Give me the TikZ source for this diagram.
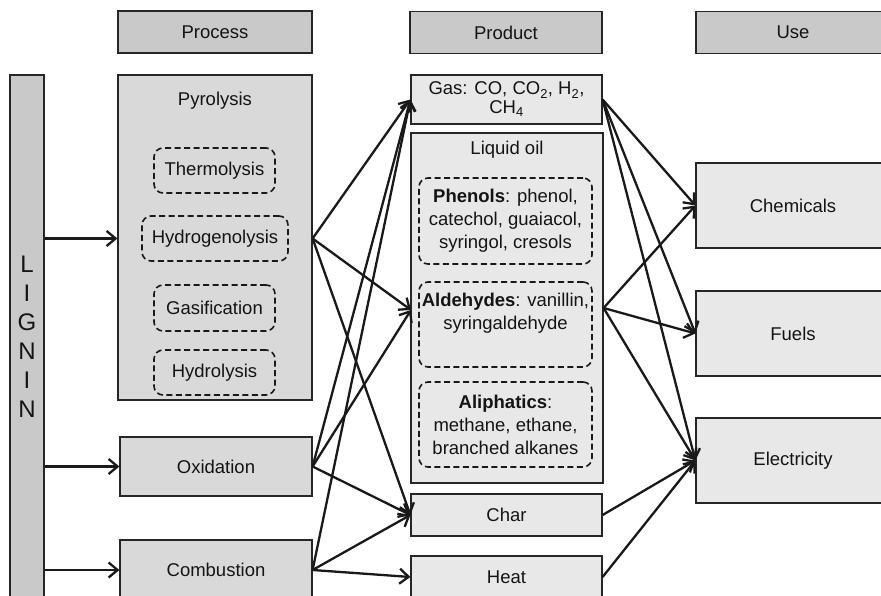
\documentclass[tikz,border=0pt]{standalone}
\usepackage{fontspec}
\setmainfont{Liberation Sans}
\usetikzlibrary{arrows.meta}

\definecolor{hdrgray}{gray}{0.79}
\definecolor{procgray}{gray}{0.85}
\definecolor{prodgray}{gray}{0.91}

\tikzset{
  every node/.style={font=\fontsize{18.5}{23}\selectfont, text=black!92, inner sep=0pt},
  box/.style={draw=black!85, line width=1.2pt},
  hdr/.style={box, fill=hdrgray, minimum width=194pt, minimum height=42pt},
  proc/.style={box, fill=procgray, minimum width=192pt},
  prod/.style={box, fill=prodgray, minimum width=191pt},
  usebox/.style={box, fill=prodgray, minimum width=194pt, minimum height=85pt},
  dbox/.style={draw=black!90, line width=1.6pt, dash pattern=on 6pt off 3.5pt, rounded corners=9pt, align=center},
  arr/.style={-{Straight Barb[length=9pt,width=15pt]}, line width=2.3pt, black!90}
}

\begin{document}
\begin{tikzpicture}[x=1pt,y=-1pt]
\clip (0,0) rectangle (881,596);

% column heads
\node[hdr] (hproc) at (215,32) {Process};
\node[hdr, minimum width=192pt] (hprod) at (506,32.5) {Product};
\node[hdr] (huse) at (793,32.5) {Use};

% lignin bar
\node[box, fill=hdrgray, minimum width=34pt, minimum height=545pt] (lignin) at (27,347.5) {};
\node[align=center, font=\fontsize{24}{29}\selectfont] (lname) at (27,337) {L\\I\\G\\N\\I\\N};

% processes
\node[proc, minimum width=194pt, minimum height=325pt] (pyro) at (215,237.5) {};
\node (pyrotxt) at (215,101) {Pyrolysis};
\node[dbox, minimum width=121pt, minimum height=45pt] (thermo) at (214.5,170.5) {Thermolysis};
\node[dbox, minimum width=146pt, minimum height=45pt] (hydro) at (215,238.5) {Hydrogenolysis};
\node[dbox, minimum width=121pt, minimum height=46pt] (gasif) at (214.5,308) {Gasification};
\node[dbox, minimum width=121pt, minimum height=45pt] (hydrol) at (214.5,372.5) {Hydrolysis};
\node[proc, minimum height=59pt] (ox) at (216,466.5) {Oxidation};
\node[proc, minimum height=60pt] (comb) at (216,570) {\raisebox{-1pt}{Combustion}};

% products
\node[prod, minimum height=49pt, align=center, font=\fontsize{18.5}{19}\selectfont] (gas) at (506.5,99.5) {Gas: CO, CO\textsubscript{2}, H\textsubscript{2},\\CH\textsubscript{4}};
\node[prod, minimum width=192pt, minimum height=350pt] (oil) at (507,308) {};
\node (oiltxt) at (507,150) {Liquid oil};
\node[dbox, minimum width=173pt, minimum height=86pt] (phen) at (505.5,221) {\textbf{Phenols}: phenol,\\catechol, guaiacol,\\syringol, cresols};
\node[dbox, minimum width=173pt, minimum height=85pt] (ald) at (505.5,324.5) {\textbf{Aldehydes}: vanillin,\\syringaldehyde\\[4pt]};
\node[dbox, minimum width=173pt, minimum height=85pt] (aliph) at (505.5,424.5) {\textbf{Aliphatics}:\\methane, ethane,\\branched alkanes};
\node[prod, minimum height=42pt] (char) at (506.5,515) {Char};
\node[prod, minimum height=42pt] (heat) at (506.5,577) {Heat};
\coordinate (oilin) at (411,310);

% uses
\node[usebox] (chem) at (793,205.5) {Chemicals};
\node[usebox] (fuel) at (793,333.5) {Fuels};
\node[usebox] (elec) at (793,460.5) {Electricity};

% lignin to processes
\draw[arr] (lignin.east |- hydro) -- (pyro.west |- hydro);
\draw[arr] (lignin.east |- ox) -- (ox.west);
\draw[arr] (lignin.east |- comb) -- (comb.west);

% processes to products
\draw[arr] (pyro.east |- hydro) -- (gas.west);
\draw[arr] (pyro.east |- hydro) -- (oilin);
\draw[arr] (pyro.east |- hydro) -- (char.west);
\draw[arr] (ox.east) -- (gas.west);
\draw[arr] (ox.east) -- (oilin);
\draw[arr] (ox.east) -- (char.west);
\draw[arr] (comb.east) -- (gas.west);
\draw[arr] (comb.east) -- (char.west);
\draw[arr] (comb.east) -- (heat.west);

% products to uses
\draw[arr] (gas.east) -- (chem.west);
\draw[arr] (gas.east) -- (fuel.west);
\draw[arr] (gas.east) -- (elec.west);
\draw[arr] (oil.east) -- (chem.west);
\draw[arr] (oil.east) -- (fuel.west);
\draw[arr] (oil.east) -- (elec.west);
\draw[arr] (char.east) -- (elec.west);
\draw[arr] (heat.east) -- (elec.west);
\end{tikzpicture}
\end{document}
